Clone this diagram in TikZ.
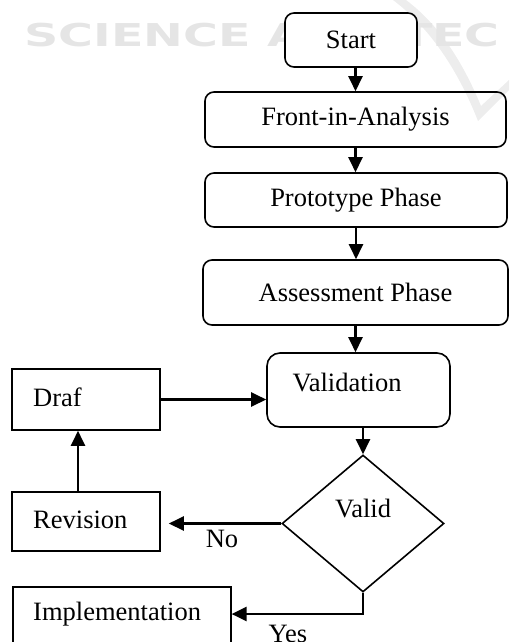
\documentclass[tikz,border=0pt]{standalone}
\usepackage{fontspec}
\setmainfont{Liberation Serif}
\newfontfamily\markfont{DejaVu Sans}
\usetikzlibrary{arrows.meta,shapes.geometric,calc}

\begin{document}
\begin{tikzpicture}[x=1pt,y=-1pt,
  font=\fontsize{26.5}{30}\selectfont,
  box/.style={draw, line width=1.6pt, inner sep=0pt},
  rbox/.style={box, rounded corners=9pt},
  txt/.style={inner sep=0pt},
  arr/.style={line width=2.4pt, -{Triangle[length=15pt,width=14pt]}},
  wm/.style={inner sep=0pt, text=black!10,
    font=\markfont\bfseries\fontsize{31.5}{32}\selectfont, xscale=1.51}
]
\useasboundingbox (0,0) rectangle (509,642);

% faint background mark
\fill[black!7] (393,0) .. controls (430,28) and (458,70) .. (478,121)
  -- (509,90) -- (509,80) -- (481,106)
  .. controls (462,60) and (438,24) .. (406,0) -- cycle;
\node[wm, anchor=west] (wmark) at (24,35) {SCIENCE AND TEC};

% main sequence
\node[rbox, fill=white, minimum width=132pt, minimum height=54pt] (start) at (351,40) {Start};
\node[rbox, minimum width=301pt, minimum height=55pt] (front) at (355.5,119.5) {Front-in-Analysis};
\node[rbox, minimum width=302pt, minimum height=54pt] (proto) at (356,200) {Prototype Phase};
\node[rbox, minimum width=305pt, minimum height=65pt] (assess) at (355.5,292.5) {Assessment Phase};
\node[rbox, rounded corners=13pt, minimum width=183pt, minimum height=74pt] (valbox) at (358.5,390) {};
\node[txt] (valtxt) at (347,383) {Validation};

% decision
\node[box, diamond, minimum width=162pt, minimum height=137pt] (valid) at (363,523.5) {};
\node[txt] (validtxt) at (363,509) {Valid};

% side boxes
\node[box, minimum width=148pt, minimum height=61pt] (draf) at (86,399.5) {};
\node[txt, anchor=west] (draftxt) at (33,397) {Draf};
\node[box, minimum width=148pt, minimum height=59pt] (rev) at (86,521.5) {};
\node[txt, anchor=west] (revtxt) at (33,520) {Revision};
\node[box, anchor=north west, minimum width=218pt, minimum height=80pt] (impl) at (12,586) {};
\node[txt, anchor=west] (impltxt) at (33,614) {Implementation};

% branch labels
\node[txt] (nolbl) at (222,539) {No};
\node[txt] (yeslbl) at (288,634) {Yes};

% connectors
\draw[arr] (start.south -| front.north) -- (front.north);
\draw[arr] (front.south) -- (front.south |- proto.north);
\draw[arr] (proto.south) -- (proto.south |- assess.north);
\draw[arr] (assess.south) -- (assess.south |- valbox.north);
\draw[arr] (valid.north |- valbox.south) -- (valid.north);
\draw[arr] (draf.east) -- (draf.east -| valbox.west);
\draw[arr] ($(rev.north)+(-8,0)$) -- ($(draf.south)+(-8,0)$);
\draw[arr] (valid.west) -- ($(valid.west -| rev.east)+(8,0)$);
\draw[arr] (valid.south) |- (impltxt.west -| impl.east);
\end{tikzpicture}
\end{document}
